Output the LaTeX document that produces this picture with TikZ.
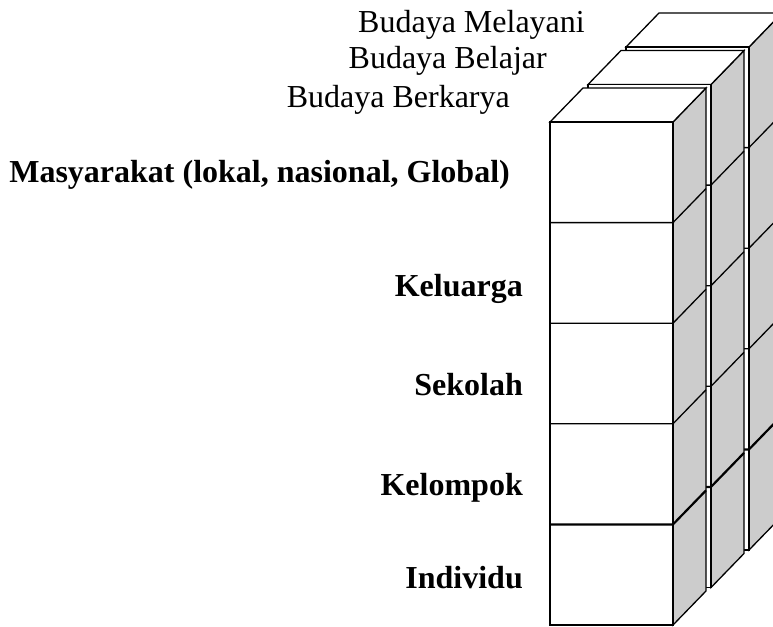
\documentclass[tikz,border=0pt]{standalone}
\usepackage{fontspec}
\setmainfont{Liberation Serif}
\begin{document}
\begin{tikzpicture}[x=1pt,y=-1pt,
  face/.style={draw=black, line width=1.3pt, fill=white},
  side/.style={draw=black, line width=1.3pt, fill=gray!40},
  edge/.style={draw=black, line width=1.3pt},
  thickedge/.style={draw=black, line width=2.2pt},
  layerlabel/.style={anchor=base east, font=\fontsize{32}{38}\selectfont, inner sep=0pt},
  levellabel/.style={anchor=base east, font=\fontsize{32}{38}\selectfont\bfseries, inner sep=0pt}]
\useasboundingbox (0,0) rectangle (773,626);
\def\w{123}\def\h{100.6}\def\dx{33}\def\dy{-34}
\begin{scope}
\clip (0,0) rectangle (773,626);
\foreach \k in {2,1,0} {
  \begin{scope}[shift={(550+38*\k,122-37.5*\k)}]
    \draw[side] (\w,0) -- ++(\dx,\dy) -- ++(0,5*\h) -- (\w,5*\h) -- cycle;
    \draw[face] (0,0) -- (\dx,\dy) -- (\w+\dx,\dy) -- (\w,0) -- cycle;
    \draw[face] (0,0) rectangle (\w,5*\h);
    \foreach \i in {1,2,3} {
      \draw[edge] (0,\i*\h) -- (\w,\i*\h) -- ++(\dx,\dy);
    }
    \draw[thickedge] (0,4*\h) -- (\w,4*\h) -- ++(\dx,\dy);
  \end{scope}
}
\end{scope}
\node[layerlabel] (melayani) at (585,33) {Budaya Melayani};
\node[layerlabel] (belajar) at (547,68) {Budaya Belajar};
\node[layerlabel] (berkarya) at (510,107) {Budaya Berkarya};
\node[levellabel] (masy) at (510,182) {Masyarakat (lokal, nasional, Global)};
\node[levellabel] (kel) at (523,296) {Keluarga};
\node[levellabel] (sek) at (523,395) {Sekolah};
\node[levellabel] (klp) at (523,495) {Kelompok};
\node[levellabel] (ind) at (523,588) {Individu};
\end{tikzpicture}
\end{document}
